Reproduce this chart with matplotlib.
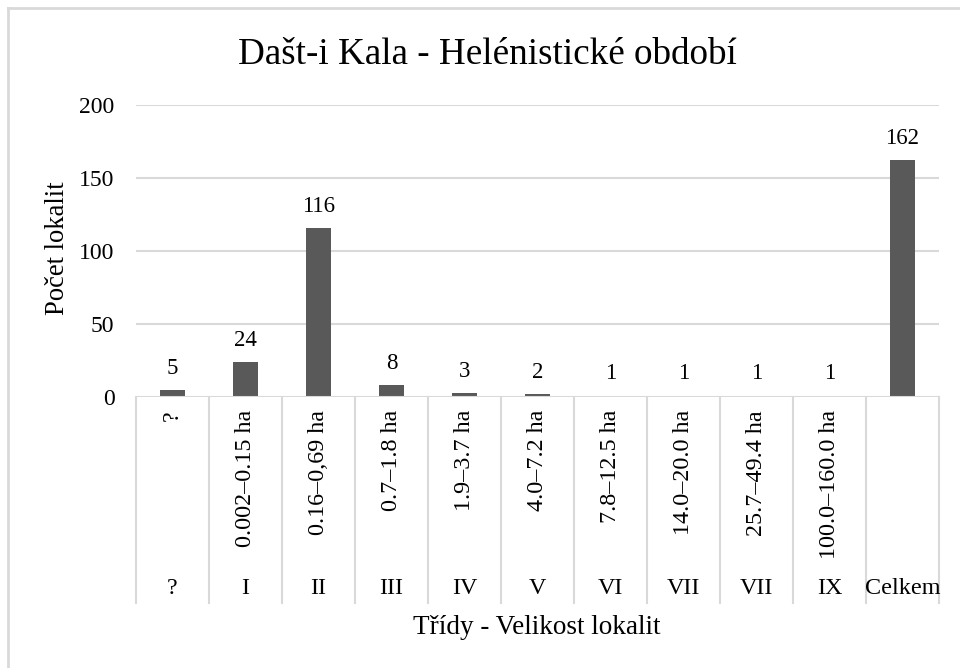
import matplotlib
matplotlib.use("Agg")
import matplotlib.pyplot as plt
from matplotlib.lines import Line2D

plt.rcParams['font.family'] = ['Liberation Serif', 'DejaVu Serif']

classes = ["?", "I", "II", "III", "IV", "V", "VI", "VII", "VII", "IX", "Celkem"]
sizes = ["?", "0.002–0.15 ha", "0.16–0,69 ha", "0.7–1.8 ha", "1.9–3.7 ha", "4.0–7.2 ha",
         "7.8–12.5 ha", "14.0–20.0 ha", "25.7–49.4 ha", "100.0–160.0 ha", ""]
counts = [5, 24, 116, 8, 3, 2, 1, 1, 1, 1, 162]
yticks = [0, 50, 100, 150, 200]

W, H = 960, 668
fig = plt.figure(figsize=(9.6, 6.68), dpi=100)
ax = fig.add_axes([136 / W, 1 - 397 / H, (939 - 136) / W, (397 - 105) / H])

x = list(range(len(counts)))
ax.bar(x, counts, width=0.33, color="#595959", zorder=3)
ax.set_xlim(-0.5, len(counts) - 0.5)
ax.set_ylim(0, 200)
ax.set_yticks(yticks)
ax.set_yticklabels([str(v) for v in yticks], fontsize=17)
ax.tick_params(axis='y', length=0, pad=15.5)
ax.set_xticks([])
for s in ax.spines.values():
    s.set_visible(False)
for v in yticks[1:]:
    ax.axhline(v, color="#d9d9d9", lw=1.5, zorder=1)
ax.axhline(0, color="#d9d9d9", lw=1.5, zorder=4)

for xi, c in zip(x, counts):
    ax.annotate(str(c), (xi, c), xytext=(0, 8), textcoords="offset points",
                ha="center", va="bottom", fontsize=16.5)

ah = 397 - 105
bottom = -(603 - 397) / ah
trans = ax.get_xaxis_transform()
for b in range(len(counts) + 1):
    ax.add_line(Line2D([b - 0.5, b - 0.5], [0, bottom], transform=trans,
                       color="#d9d9d9", lw=1.5, clip_on=False))

for xi, s in zip(x, sizes):
    if s:
        ax.text(xi, -(410 - 397) / ah, s, transform=trans, rotation=90,
                ha="center", va="top", fontsize=17.4)
for xi, c in zip(x, classes):
    ax.text(xi, -(588 - 397) / ah, c, transform=trans, ha="center", va="center",
            fontsize=17.4)

fig.text(487 / W, 1 - 55 / H, "Dašt-i Kala - Helénistické období", ha="center",
         va="center", fontsize=26.7)
fig.text(537 / W, 1 - 628 / H, "Třídy - Velikost lokalit", ha="center",
         va="center", fontsize=19.5)
fig.text(58 / W, 1 - 248 / H, "Počet lokalit", ha="center", va="center",
         rotation=90, fontsize=19.2)

fig.add_artist(Line2D([8 / W, 8 / W], [0, 1 - 8 / H], transform=fig.transFigure,
                      color="#d9d9d9", lw=2))
fig.add_artist(Line2D([8 / W, 1], [1 - 8 / H, 1 - 8 / H], transform=fig.transFigure,
                      color="#d9d9d9", lw=2))

fig.savefig("out.png", dpi=100)
